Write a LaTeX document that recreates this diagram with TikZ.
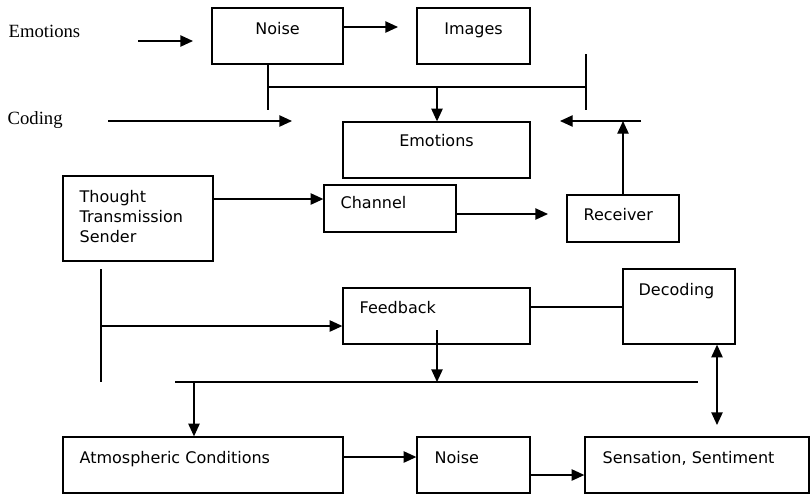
\documentclass[tikz,border=0pt]{standalone}
\usepackage{fontspec}
\setmainfont{DejaVu Sans}
\newfontfamily\tnr{Liberation Serif}
\usetikzlibrary{arrows.meta,fit,calc}
\begin{document}
\begin{tikzpicture}[x=0.75pt,y=-0.75pt,line width=1pt,
  box/.style={draw,inner sep=0pt,line width=1pt},
  lbl/.style={anchor=base west,inner sep=0pt,font=\fontsize{12}{15}\selectfont},
  ctr/.style={anchor=base,inner sep=0pt,font=\fontsize{12}{15}\selectfont},
  serif/.style={anchor=base west,inner sep=0pt,font=\tnr\fontsize{14}{17}\selectfont},
  arr/.style={-{Triangle[length=9.5pt,width=8.5pt]}},
  darr/.style={{Triangle[length=9.5pt,width=8.5pt]}-{Triangle[length=9.5pt,width=8.5pt]}}]
\useasboundingbox (0,0) rectangle (810,494);
% boxes
\node[box,fit={(212,8) (343,64)}] (noise) {};
\node[box,fit={(417,8) (530,64)}] (images) {};
\node[box,fit={(343,122) (530,178)}] (emo) {};
\node[box,fit={(63,176) (213,261)}] (thought) {};
\node[box,fit={(324,185) (456,232)}] (channel) {};
\node[box,fit={(567,195) (679,242)}] (receiver) {};
\node[box,fit={(343,288) (530,344)}] (feedback) {};
\node[box,fit={(623,269) (735,344)}] (decoding) {};
\node[box,fit={(63,437) (343,493)}] (atm) {};
\node[box,fit={(417,437) (530,493)}] (noise2) {};
\node[box,fit={(585,437) (809,493)}] (sens) {};
% texts
\node[ctr] (tnoise) at (277.5,34) {Noise};
\node[ctr] (timages) at (473.5,34) {Images};
\node[ctr] (temo) at (436.5,146.5) {Emotions};
\node[lbl] (tchannel) at (340,208.5) {Channel};
\node[lbl] (treceiver) at (583,220) {Receiver};
\node[lbl,anchor=north west,align=left,font=\fontsize{12}{15}\selectfont] (tthought) at (79,189.5) {Thought\\Transmission\\Sender};
\node[lbl] (tfeedback) at (359,313) {Feedback};
\node[lbl] (tdecoding) at (638,295.5) {Decoding};
\node[lbl] (tatm) at (79,463) {Atmospheric Conditions};
\node[lbl] (tnoise2) at (434,463) {Noise};
\node[lbl] (tsens) at (602,463) {Sensation, Sentiment};
\node[serif] (lemo) at (8,37) {Emotions};
\node[serif] (lcod) at (7,124) {Coding};
% free coordinates
\coordinate (e1) at (138,41);
\coordinate (e2) at (193,41);
\coordinate (c1) at (108,121);
\coordinate (c2) at (292,121);
\coordinate (imgin) at (398,27);
\coordinate (nv) at (268,110);
\coordinate (nh) at (268,87);
\coordinate (rh) at (586,87);
\coordinate (rt) at (586,54);
\coordinate (rb) at (586,110);
\coordinate (ld) at (437,87);
\coordinate (la1) at (641,121);
\coordinate (la2) at (560,121);
\coordinate (rx) at (548,214);
\coordinate (v1) at (101,269);
\coordinate (v2) at (101,382);
\coordinate (vm) at (101,326);
\coordinate (fd1) at (437,330);
\coordinate (fd2) at (437,382);
\coordinate (h1) at (175,382);
\coordinate (h2) at (698,382);
\coordinate (ad) at (194,382);
\coordinate (dd) at (717,425);
% connectors
\draw[arr] (e1) -- (e2);
\draw[arr] (c1) -- (c2);
\draw[arr] (noise.east |- imgin) -- (imgin);
\draw (noise.south -| nh) -- (nv);
\draw (nh) -- (rh);
\draw (rt) -- (rb);
\draw[arr] (ld) -- (emo.north -| ld);
\draw[arr] (la1) -- (la2);
\draw[arr] (receiver.north) -- (receiver.north |- la1);
\draw[arr] (thought.east |- 0,199) -- (channel.west |- 0,199);
\draw[arr] (channel.east |- rx) -- (rx);
\draw (v1) -- (v2);
\draw[arr] (vm) -- (feedback.west |- vm);
\draw (feedback.east |- 0,307) -- (decoding.west |- 0,307);
\draw[arr] (fd1) -- (fd2);
\draw (h1) -- (h2);
\draw[arr] (ad) -- (atm.north -| ad);
\draw[arr] (atm.east |- 0,457) -- (noise2.west |- 0,457);
\draw[arr] (noise2.east |- 0,475) -- (sens.west |- 0,475);
\draw[darr] (decoding.south -| dd) -- (dd);
\end{tikzpicture}
\end{document}
